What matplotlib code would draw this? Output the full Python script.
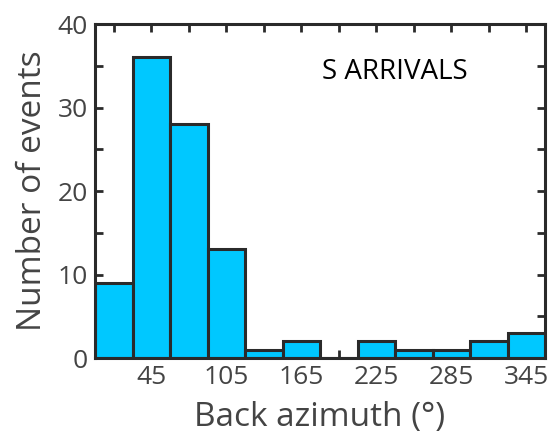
import matplotlib
matplotlib.use("Agg")
from matplotlib import pyplot as plt
import numpy as np

# back azimuth bins (deg) and counts
bin_edges = np.arange(0, 361, 30)
counts = [9, 36, 28, 13, 1, 2, 0, 2, 1, 1, 2, 3]
xtick_pos = np.arange(15, 360, 30)
xtick_labels = ['', '45', '', '105', '', '165', '', '225', '', '285', '', '345']
ytick_pos = np.arange(0, 41, 5)
ytick_labels = ['0', '', '10', '', '20', '', '30', '', '40']

plt.rcParams['font.family'] = ['Open Sans', 'DejaVu Sans']

fig = plt.figure(figsize=(5.54, 4.41), dpi=100)
ax = fig.add_axes([95/554, 1 - 358/441, 450/554, 334/441])

centers = (bin_edges[:-1] + bin_edges[1:]) / 2
ax.bar(centers, counts, width=30, color='#00C8FF', edgecolor='#2a2a2a',
       linewidth=2.2, zorder=2)

ax.set_xlim(0, 360)
ax.set_ylim(0, 40)
ax.set_xticks(xtick_pos)
ax.set_xticklabels(xtick_labels)
ax.set_yticks(ytick_pos)
ax.set_yticklabels(ytick_labels)
ax.tick_params(direction='in', length=6, width=2, color='#2a2a2a',
               labelsize=19, labelcolor='#444444', top=True, right=True, pad=5)
for s in ax.spines.values():
    s.set_linewidth(2.2)
    s.set_color('#2a2a2a')
    s.set_zorder(3)

ax.set_xlabel('Back azimuth (°)', fontsize=24, color='#444444', labelpad=8)
ax.set_ylabel('Number of events', fontsize=24, color='#444444', labelpad=6)
ax.text(240, 34.3, 'S ARRIVALS', fontsize=20, ha='center', va='center', color='black')

fig.savefig('out.png', dpi=100)
